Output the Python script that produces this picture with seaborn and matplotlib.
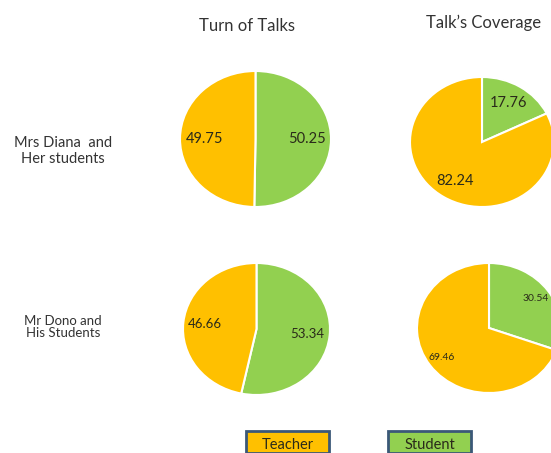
import matplotlib
matplotlib.use("Agg")
import matplotlib.pyplot as plt
from matplotlib.patches import Rectangle
import seaborn as sns

# data
metrics = ["Turn of Talks", "Talk\u2019s Coverage"]
groups = ["Mrs Diana  and\nHer students", "Mr Dono and\nHis Students"]
roles = ["Teacher", "Student"]
teacher_vals = [[49.75, 82.24], [46.66, 69.46]]
student_vals = [[50.25, 17.76], [53.34, 30.54]]

# layout (pixels) for each pie: centre x, centre y, radius x, radius y
W, H = 551, 453
pie_boxes = [[(255.5, 139, 75.5, 68), (482, 142, 72, 65)],
             [(256.5, 329, 73.5, 66), (489, 328, 72, 65)]]
label_sizes = [[10.5, 10.5], [9.5, 7.5]]
label_dist = [[0.68, 0.70], [0.70, 0.80]]

colors = {"Teacher": "#FFC000", "Student": "#92D050"}
txt_col = "#333333"
num_col = "#2A2A1A"

sns.set_theme(style="white")
plt.rcParams["font.family"] = ["Lato", "DejaVu Sans"]

fig = plt.figure(figsize=(W / 100, H / 100), dpi=100)

for i, g in enumerate(groups):
    for j, m in enumerate(metrics):
        cx, cy, rx, ry = pie_boxes[i][j]
        ax = fig.add_axes([(cx - rx) / W, (H - cy - ry) / H, 2 * rx / W, 2 * ry / H])
        vals = [student_vals[i][j], teacher_vals[i][j]]
        ax.pie(vals, colors=[colors["Student"], colors["Teacher"]],
               startangle=90, counterclock=False,
               labels=[f"{v:.2f}" for v in vals], labeldistance=label_dist[i][j],
               wedgeprops=dict(edgecolor="white", linewidth=1.5),
               textprops=dict(fontsize=label_sizes[i][j], color=num_col,
                              ha="center", va="center"))
        ax.set_aspect("auto")
        ax.set_xlim(-1, 1)
        ax.set_ylim(-1, 1)

# column titles
fig.text(247 / W, 1 - 26 / H, metrics[0], ha="center", va="center", fontsize=12, color=txt_col)
fig.text(484 / W, 1 - 23 / H, metrics[1], ha="center", va="center", fontsize=12, color=txt_col)

# row labels
fig.text(63 / W, 1 - 151 / H, groups[0], ha="center", va="center", fontsize=10.5,
         color=txt_col, linespacing=1.2)
fig.text(63 / W, 1 - 327 / H, groups[1], ha="center", va="center", fontsize=9.5,
         color=txt_col, linespacing=1.0)

# legend boxes
for x0, r in zip([246, 388], roles):
    fig.patches.append(Rectangle((x0 / W, 0), 83 / W, (H - 431) / H, transform=fig.transFigure,
                                 facecolor=colors[r], edgecolor="#3B5878", linewidth=2,
                                 clip_on=False))
    fig.text((x0 + 41.5) / W, 1 - 445 / H, r, ha="center", va="center", fontsize=10.5,
             color=num_col)

fig.savefig("out.png", dpi=100)
